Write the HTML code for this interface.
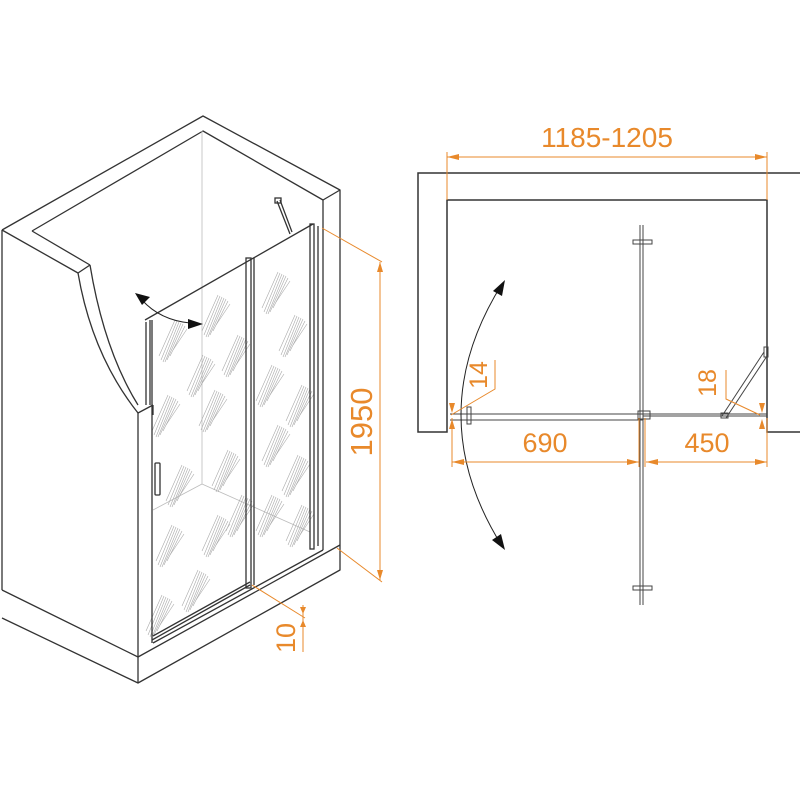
<!DOCTYPE html>
<html><head><meta charset="utf-8"><style>
html,body{margin:0;padding:0;background:#fff;}
svg{display:block;}
text{font-family:"Liberation Sans",sans-serif;fill:#e8892b;}
</style></head><body>
<svg width="800" height="800" viewBox="0 0 800 800" xmlns="http://www.w3.org/2000/svg">
<defs>
<g id="streak" stroke="#aaa" stroke-width="0.6">
<line x1="0" y1="0" x2="-16" y2="36"/><line x1="2" y1="1" x2="-14" y2="40"/><line x1="4" y1="2" x2="-12" y2="42"/><line x1="6" y1="3" x2="-10" y2="42"/><line x1="8" y1="4" x2="-8" y2="40"/><line x1="10" y1="6" x2="-5" y2="36"/><line x1="12" y1="9" x2="-2" y2="30"/>
</g>
</defs>
<g fill="none" stroke="#333" stroke-width="1.3" stroke-linejoin="round">
<polyline points="2,230 203,116 340,190 340,545"/>
<polyline points="32,231 203,131 323,200 323,550"/>
<line x1="323" y1="200" x2="340" y2="190"/>
<polyline points="2,230 78,273 90,265"/>
<line x1="32" y1="231" x2="90" y2="265"/>
<path d="M90,265 Q104,350 138,405"/>
<path d="M78,273 Q92,355 138,413"/>
<polyline points="138,413 153,405"/>
<line x1="2" y1="230" x2="2" y2="590"/>
<line x1="138" y1="413" x2="138" y2="683"/>
<line x1="153" y1="405" x2="153" y2="415"/>
<polyline points="2,590 138,657 340,545"/>
<polyline points="2,618 138,683 340,570 340,545"/>
<line x1="153" y1="643" x2="323" y2="550"/>
</g>
<g stroke="#bbb" stroke-width="0.8" fill="none">
<line x1="202" y1="131" x2="202" y2="484"/>
<line x1="202" y1="484" x2="153" y2="510"/>
<line x1="202" y1="484" x2="310" y2="532"/>
</g>
<g>
<use href="#streak" x="175" y="320"/><use href="#streak" x="218" y="295"/><use href="#streak" x="168" y="395"/>
<use href="#streak" x="215" y="390"/><use href="#streak" x="238" y="335"/><use href="#streak" x="182" y="465"/>
<use href="#streak" x="228" y="450"/><use href="#streak" x="172" y="525"/><use href="#streak" x="218" y="515"/>
<use href="#streak" x="198" y="570"/><use href="#streak" x="242" y="495"/><use href="#streak" x="162" y="595"/>
<use href="#streak" x="278" y="272"/><use href="#streak" x="295" y="315"/><use href="#streak" x="272" y="365"/>
<use href="#streak" x="302" y="385"/><use href="#streak" x="278" y="425"/><use href="#streak" x="298" y="455"/>
<use href="#streak" x="272" y="495"/><use href="#streak" x="302" y="505"/><use href="#streak" x="203" y="355"/>
</g>
<g fill="none" stroke="#333" stroke-width="1.3">
<line x1="145" y1="320" x2="313" y2="224"/>
<line x1="146" y1="322" x2="146" y2="405"/>
<line x1="150" y1="320" x2="150" y2="405"/>
<line x1="152" y1="320" x2="152" y2="643"/>
<line x1="152" y1="640" x2="250" y2="585"/>
<line x1="153" y1="636" x2="250" y2="582"/>
<rect x="246" y="258" width="5" height="330"/>
<line x1="254" y1="258" x2="254" y2="585"/>
<rect x="310" y="224" width="4" height="325"/>
<line x1="318" y1="226" x2="318" y2="546"/>
<rect x="155" y="463" width="5" height="32" rx="1"/>
<line x1="277" y1="201" x2="290" y2="234"/>
<line x1="280" y1="200" x2="292" y2="232"/>
<rect x="275" y="198" width="6" height="5"/>
</g>
<path d="M142,300 Q160,320 190,323" fill="none" stroke="#222" stroke-width="1"/>
<polygon points="135,293 150,297 142,305" fill="#111"/>
<polygon points="203,324 188,319 188,329" fill="#111"/>
<g stroke="#e8892b" stroke-width="1" fill="none">
<line x1="322" y1="228" x2="382" y2="262"/>
<line x1="337" y1="548" x2="382" y2="582"/>
<line x1="380" y1="262" x2="380" y2="580"/>
<line x1="252" y1="585" x2="305" y2="618"/>
<line x1="303" y1="605" x2="303" y2="652"/>
</g>
<polygon points="380,262 377,272 383,272" fill="#e8892b"/>
<polygon points="380,580 377,570 383,570" fill="#e8892b"/>
<polygon points="303,614 300,607 306,607" fill="#e8892b"/>
<polygon points="303,620 300,627 306,627" fill="#e8892b"/>
<text transform="translate(372,422) rotate(-90)" font-size="31" text-anchor="middle">1950</text>
<text transform="translate(295,638) rotate(-90)" font-size="27" text-anchor="middle">10</text>

<g fill="none" stroke="#333" stroke-width="1.5">
<polyline points="800,173 418,173 418,432 447,432 447,200 767,200 767,432 800,432"/>
</g>
<g fill="none" stroke="#444" stroke-width="1">
<line x1="640" y1="225" x2="640" y2="605"/>
<line x1="643" y1="225" x2="643" y2="605"/>
<rect x="633" y="240" width="19" height="4"/>
<rect x="633" y="586" width="19" height="4"/>
<line x1="450" y1="414" x2="643" y2="414"/>
<line x1="450" y1="420" x2="643" y2="420"/>
<rect x="467" y="407" width="4" height="17"/>
<line x1="643" y1="414" x2="767" y2="414"/>
<line x1="643" y1="416" x2="767" y2="416"/>
<rect x="638" y="411" width="12" height="8"/>
<line x1="722" y1="416" x2="764" y2="352"/>
<line x1="726" y1="418" x2="767" y2="356"/>
<rect x="721" y="413" width="7" height="5"/>
<rect x="764" y="347" width="4" height="10"/>
</g>
<path d="M502,284 Q420,415 502,546" fill="none" stroke="#222" stroke-width="1"/>
<polygon points="505,280 493,291 502,296" fill="#111"/>
<polygon points="505,550 492,540 501,534" fill="#111"/>
<g stroke="#e8892b" stroke-width="1" fill="none">
<line x1="447" y1="157" x2="767" y2="157"/>
<line x1="447" y1="152" x2="447" y2="200"/>
<line x1="767" y1="152" x2="767" y2="200"/>
<line x1="452" y1="462" x2="639" y2="462"/>
<line x1="646" y1="462" x2="767" y2="462"/>
<line x1="452" y1="418" x2="452" y2="467"/>
<line x1="639" y1="418" x2="639" y2="467"/>
<line x1="645" y1="418" x2="645" y2="467"/>
<line x1="767" y1="418" x2="767" y2="467"/>
<polyline points="451,415 495,389 495,360"/>
<polyline points="760,415 726,399 726,370"/>
</g>
<g fill="#e8892b">
<polygon points="447,157 459,154 459,160"/>
<polygon points="767,157 755,154 755,160"/>
<polygon points="452,462 464,459 464,465"/>
<polygon points="639,462 627,459 627,465"/>
<polygon points="646,462 658,459 658,465"/>
<polygon points="767,462 755,459 755,465"/>
<polygon points="452,413 449,403 455,403"/>
<polygon points="452,419 449,429 455,429"/>
<polygon points="762,413 759,403 765,403"/>
<polygon points="762,419 759,429 765,429"/>
</g>
<text x="607" y="147" font-size="28" text-anchor="middle">1185-1205</text>
<text x="545" y="452" font-size="27" text-anchor="middle">690</text>
<text x="707" y="452" font-size="27" text-anchor="middle">450</text>
<text transform="translate(487,375) rotate(-90)" font-size="25" text-anchor="middle">14</text>
<text transform="translate(716,383) rotate(-90)" font-size="25" text-anchor="middle">18</text>
</svg>
</body></html>
